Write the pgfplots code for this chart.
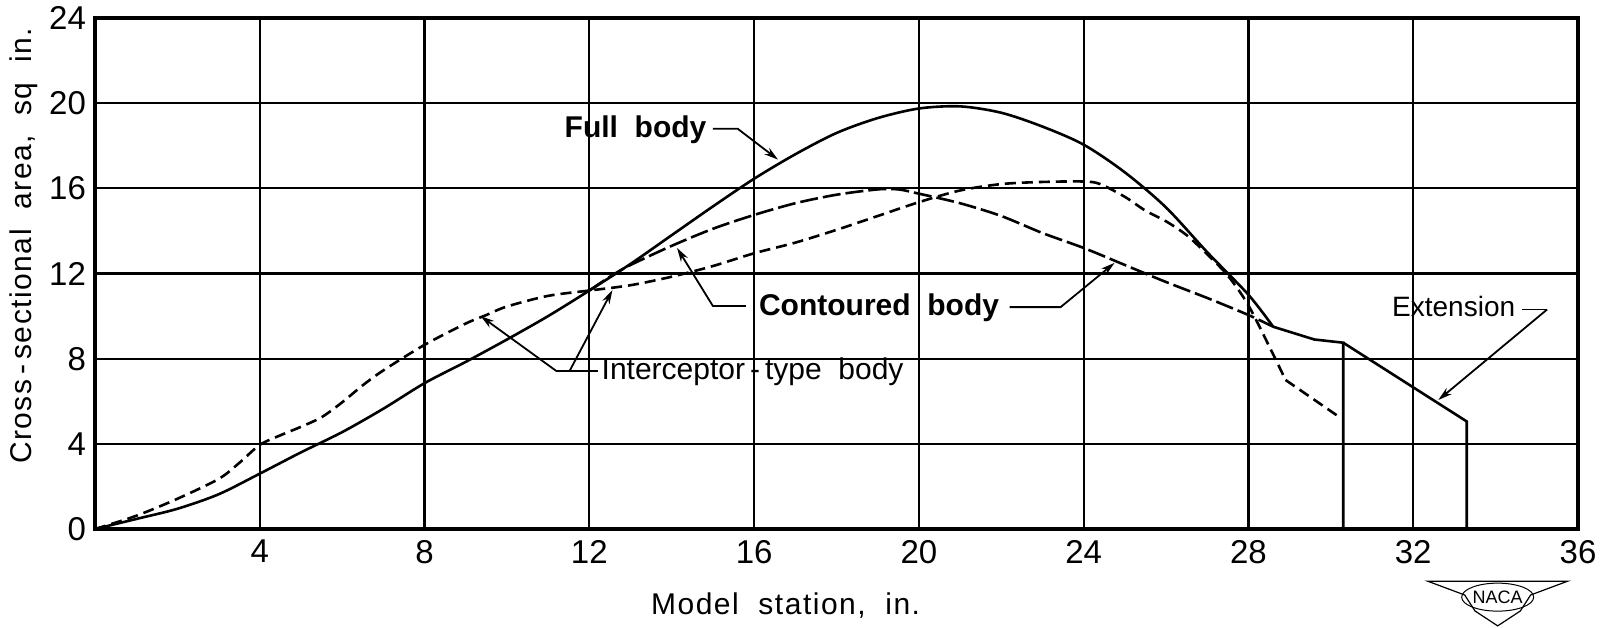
\documentclass[border=0pt]{standalone}
\usepackage{fontspec}
\setmainfont{Liberation Sans}
\usepackage{pgfplots}
\pgfplotsset{compat=1.18}
\usetikzlibrary{arrows.meta,calc}

\begin{document}
\begin{tikzpicture}
\begin{axis}[
  scale only axis, width=741.5pt, height=255.5pt,
  xmin=0, xmax=36, ymin=0, ymax=24,
  xtick={4,8,...,36}, ytick={0,4,...,24},
  grid=major, major grid style={black, line width=1.1pt},
  major tick length=0pt,
  axis line style={line width=1.7pt},
  /pgf/number format/assume math mode=true,
  tick label style={font=\fontsize{16.5}{16.5}\selectfont},
  xticklabel style={yshift=-2pt},
  yticklabel style={xshift=-1pt},
  xlabel={Model\ \ station,\ \ in.},
  ylabel={Cross\,-\,sectional\ \ area,\ \ sq\ \ in.},
  label style={font=\fontsize{15}{15}\selectfont\addfontfeature{LetterSpace=5}},
  xlabel style={at={(axis description cs:0.4657,-0.150)}, anchor=center},
  ylabel style={at={(axis description cs:-0.0479,0.554)}, anchor=center},
  clip=false,
]
% Full body
\addplot[black, line width=1.3pt, smooth, tension=0.5] coordinates {
(0,0) (1,0.47) (2,0.95) (3,1.63) (4,2.6) (5,3.6) (6,4.55) (7,5.65) (8,6.85) (9,7.85)
(10,8.9) (11,10.0) (12,11.2) (13,12.45) (14,13.8) (15,15.15) (16,16.45) (17,17.6)
(18,18.6) (19,19.3) (20,19.75) (21,19.85) (22,19.55) (23,18.9) (24,18.05) (25,16.75)
(26,15.1) (27,13.0) (28,11.0) (28.6,9.5)
};
\addplot[black, line width=1.3pt] coordinates {
(28.6,9.5) (29.6,8.9) (30.3,8.75) (30.3,0)
};
% Extension
\addplot[black, line width=1.3pt] coordinates {
(30.3,8.75) (33.3,5.05) (33.3,0)
};
% Contoured body
\addplot[black, line width=1.3pt, dash pattern=on 9pt off 2.5pt, smooth, tension=0.5] coordinates {
(12,11.2) (12.5,11.85) (13,12.4) (14,13.3) (15,14.1) (16,14.75) (17,15.3) (18,15.7)
(19,15.95) (19.5,15.95) (20,15.75) (21,15.3) (22,14.7) (23,13.9) (24,13.2) (25,12.4)
(26,11.6) (27,10.85) (28,10.05) (28.6,9.5)
};
% Interceptor-type body
\addplot[black, line width=1.3pt, dash pattern=on 5.5pt off 3pt, smooth, tension=0.5] coordinates {
(0,0) (1,0.62) (2,1.42) (3,2.35) (3.5,3.1) (4,3.95) (4.5,4.4) (5,4.8) (5.5,5.25)
(6,5.95) (6.5,6.75) (7,7.45) (8,8.65) (9,9.65) (9.5,10.05) (10,10.45) (11,10.95)
(12,11.2) (13,11.45) (14,11.85) (15,12.35) (16,12.95) (17,13.45) (18,14.05) (19,14.7)
(20,15.35) (21,15.9) (22,16.2) (23,16.3) (24,16.32) (24.4,16.2) (25,15.6) (25.5,14.95)
(26,14.45) (26.5,13.8) (27,12.9) (27.5,11.9) (28,10.5) (28.6,8.2) (28.9,7.0)
};
\addplot[black, line width=1.3pt, dash pattern=on 5.5pt off 3pt] coordinates {
(28.9,7.0) (30.25,5.2)
};

% Annotations
\tikzset{lead/.style={line width=0.9pt, -{Stealth[length=7pt,width=4pt]}}}
\node[font=\bfseries\fontsize{15}{15}\selectfont, anchor=base east, inner sep=0] at (axis cs:14.85,18.41) {Full\ \ body};
\draw[lead] (axis cs:15.0,18.8) -- (axis cs:15.6,18.8) -- (axis cs:16.58,17.35);

\node[font=\bfseries\fontsize{15}{15}\selectfont, anchor=base west, inner sep=0] at (axis cs:16.11,10.04) {Contoured\ \ body};
\draw[lead] (axis cs:15.8,10.47) -- (axis cs:15.0,10.47) -- (axis cs:14.13,13.2);
\draw[lead] (axis cs:22.2,10.42) -- (axis cs:23.44,10.42) -- (axis cs:24.75,12.5);

\node[font=\fontsize{15}{15}\selectfont, anchor=base west, inner sep=0] at (axis cs:12.29,7.0) {Interceptor\,-\,type\ \ body};
\draw[line width=0.9pt] (axis cs:11.2,7.42) -- (axis cs:12.22,7.42);
\draw[lead] (axis cs:11.2,7.42) -- (axis cs:9.36,10.0);
\draw[lead] (axis cs:11.52,7.42) -- (axis cs:12.56,11.22);

\node[font=\fontsize{14}{14}\selectfont, anchor=base west, inner sep=0] at (axis cs:31.48,9.97) {Extension};
\draw[line width=0.9pt] (axis cs:34.64,10.31) -- (axis cs:35.25,10.31);
\draw[lead] (axis cs:35.25,10.31) -- (axis cs:32.61,6.06);

% NACA logo
\draw[line width=0.6pt] (axis cs:32.35,-2.45) -- (axis cs:35.75,-2.45) -- (axis cs:34.85,-3.1)
  -- (axis cs:34.6,-3.85) -- (axis cs:34.05,-4.55) -- (axis cs:33.5,-3.85) -- (axis cs:33.25,-3.1) -- cycle;
\draw[line width=0.5pt] (axis cs:34.05,-3.2) ellipse [x radius=18pt, y radius=7pt];
\node[font=\fontsize{9}{9}\selectfont] at (axis cs:34.05,-3.2) {NACA};
\end{axis}
\pgfresetboundingbox
\path[use as bounding box] ($(current axis.south west)+(-47.5pt,-49pt)$) rectangle ($(current axis.north east)+(16pt,9pt)$);
\end{tikzpicture}
\end{document}
